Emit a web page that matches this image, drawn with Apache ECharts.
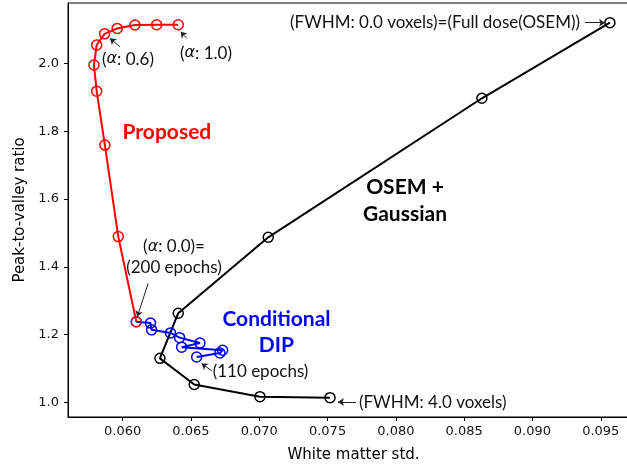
<!DOCTYPE html>
<html>
<head>
<meta charset="utf-8">
<script src="https://cdn.jsdelivr.net/npm/echarts@6/dist/echarts.min.js"></script>
<style>
html,body{margin:0;padding:0;background:#fff;}
#main{width:627px;height:465px;}
</style>
</head>
<body>
<div id="main"></div>
<script>
// Proposed (alpha 0.0 -> 1.0)
var proposed = [
  [0.06100, 1.238], [0.05968, 1.489], [0.05870, 1.759], [0.05810, 1.918],
  [0.05790, 1.995], [0.05810, 2.054], [0.05868, 2.087], [0.05960, 2.103],
  [0.06090, 2.113], [0.06249, 2.114], [0.06407, 2.114]
];
// Conditional DIP
var condDip = [
  [0.06100, 1.238], [0.06204, 1.234], [0.06212, 1.214], [0.06350, 1.205],
  [0.06417, 1.191], [0.06566, 1.175], [0.06432, 1.163], [0.06732, 1.154],
  [0.06712, 1.146], [0.06542, 1.134]
];
// OSEM + Gaussian (FWHM 0.0 -> 4.0)
var osemGauss = [
  [0.09567, 2.120], [0.08630, 1.897], [0.07066, 1.487], [0.06407, 1.263],
  [0.06273, 1.130], [0.06524, 1.053], [0.07005, 1.017], [0.07518, 1.014]
];
var xTicks = [0.060, 0.065, 0.070, 0.075, 0.080, 0.085, 0.090, 0.095];
var yTicks = [1.0, 1.2, 1.4, 1.6, 1.8, 2.0];

// annotation text: [x, y, text, align]
var notes = [
  [0.06610, 2.0304, '({a|α}: 1.0)', 'center'],
  [0.06039, 2.0127, '({a|α}: 0.6)', 'center'],
  [0.06376, 1.4584, '({a|α}: 0.0)=', 'center'],
  [0.06376, 1.3965, '(200 epochs)', 'center'],
  [0.06659, 1.0923, '(110 epochs)', 'left'],
  [0.07730, 1.0009, '(FWHM: 4.0 voxels)', 'left'],
  [0.07225, 2.1198, '(FWHM: 0.0 voxels)=(Full dose(OSEM))', 'left']
];
// bold labels: [x, y, text, colour]
var titles = [
  [0.06324, 1.7973, 'Proposed', '#ff0000'],
  [0.07126, 1.2457, 'Conditional', '#0000ff'],
  [0.07126, 1.1690, 'DIP', '#0000ff'],
  [0.08067, 1.6351, 'OSEM +', '#000000'],
  [0.08067, 1.5555, 'Gaussian', '#000000']
];
// arrows: tail -> tip
var arrows = [
  [[0.06469, 2.0737], [0.06425, 2.0932]],
  [[0.05980, 2.0490], [0.05907, 2.0737]],
  [[0.06187, 1.3510], [0.06107, 1.2525]],
  [[0.06652, 1.0932], [0.06578, 1.1150]],
  [[0.07708, 1.0009], [0.07576, 1.0009]],
  [[0.09384, 2.1198], [0.09531, 2.1198]]
];

var FONT = 'Lato';
var TICKFONT = '"DejaVu Sans", sans-serif';
function lineSeries(name, data, col){
  return {
    name: name, type: 'line', data: data, symbol: 'circle', symbolSize: 10,
    lineStyle: {color: col, width: 2},
    itemStyle: {color: 'rgba(0,0,0,0)', borderColor: col, borderWidth: 1.5},
    emphasis: {disabled: true}, animation: false
  };
}

var chart = echarts.init(document.getElementById('main'));
var option = {
  animation: false,
  grid: {left: 68, top: 3, width: 571, height: 414, containLabel: false, outerBoundsMode: 'none',
         show: true, borderColor: '#000', borderWidth: 1},
  xAxis: {
    type: 'value', min: 0.056, max: 0.0978,
    splitLine: {show: false},
    axisLine: {lineStyle: {color: '#000', width: 1}},
    axisTick: {customValues: xTicks, length: 4, lineStyle: {color: '#000'}},
    axisLabel: {customValues: xTicks, color: '#111', fontFamily: TICKFONT, fontSize: 13, margin: 8,
                formatter: function(v){ return v.toFixed(3); }},
    name: 'White matter std.', nameLocation: 'middle', nameGap: 31,
    nameTextStyle: {color: '#000', fontFamily: TICKFONT, fontSize: 15}
  },
  yAxis: {
    type: 'value', min: 0.957, max: 2.178,
    splitLine: {show: false},
    axisLine: {show: true, lineStyle: {color: '#000', width: 1}},
    axisTick: {show: true, customValues: yTicks, length: 4, lineStyle: {color: '#000'}},
    axisLabel: {customValues: yTicks, color: '#111', fontFamily: TICKFONT, fontSize: 13, margin: 9,
                formatter: function(v){ return v.toFixed(1); }},
    name: 'Peak-to-valley ratio', nameLocation: 'middle', nameGap: 38,
    nameTextStyle: {color: '#000', fontFamily: TICKFONT, fontSize: 15}
  },
  series: [
    lineSeries('OSEM + Gaussian', osemGauss, '#000000'),
    lineSeries('Conditional DIP', condDip, '#0000ff'),
    lineSeries('Proposed', proposed, '#ff0000'),
    {
      type: 'scatter', symbolSize: 0, silent: true,
      itemStyle: {opacity: 1},
      data: notes.map(function(n){
        return {value: [n[0], n[1]], label: {show: true, position: 'inside', formatter: n[2], align: n[3],
          color: '#111', fontFamily: FONT, fontSize: 17, textBorderWidth: 0, opacity: 1,
          rich: {a: {fontStyle: 'italic', fontFamily: TICKFONT, fontSize: 16, color: '#111', textBorderWidth: 0}}}};
      }).concat(titles.map(function(t){
        return {value: [t[0], t[1]], label: {show: true, position: 'inside', formatter: t[2],
          color: t[3], fontFamily: FONT, fontWeight: 'bold', fontSize: 21, textBorderWidth: 0, opacity: 1}};
      })),
      markLine: {
        silent: true, symbol: ['none', 'arrow'], symbolSize: 6, animation: false,
        label: {show: false},
        lineStyle: {color: '#222', width: 1, type: 'solid'},
        data: arrows.map(function(a){ return [{coord: a[0]}, {coord: a[1]}]; })
      }
    }
  ]
};
chart.setOption(option);
</script>
</body>
</html>
